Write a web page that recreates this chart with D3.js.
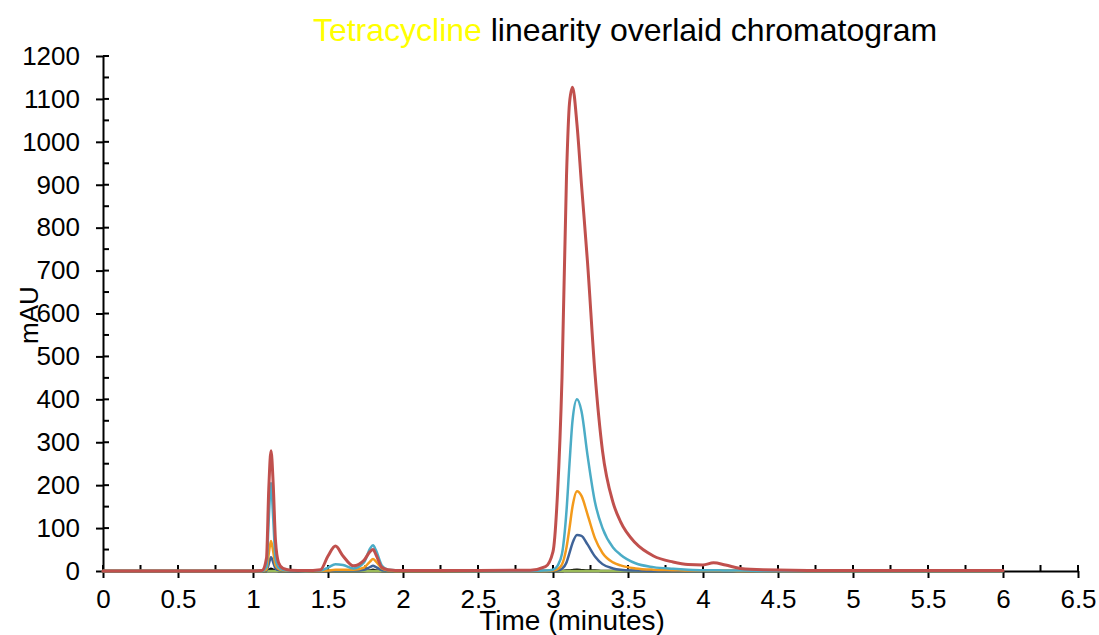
<!DOCTYPE html>
<html>
<head>
<meta charset="utf-8">
<script src="https://cdn.jsdelivr.net/npm/d3@7"></script>
<style>
    body { margin: 0; background: #fff; }
    text { font-family: "Liberation Sans", Arial, sans-serif; }
    .axis line, .axis path { stroke: #000; stroke-width: 2px; }
    .trace { fill: none; stroke-linejoin: round; stroke-linecap: round; }
</style>
</head>
<body>
<script>
(function(){

    //retention times (minutes) shared by every trace
    var times = [0, 0.5, 1.0, 1.06, 1.09, 1.105, 1.12, 1.135, 1.15, 1.17,
        1.2, 1.25, 1.35, 1.45, 1.5, 1.55, 1.6, 1.67, 1.74, 1.78,
        1.8, 1.82, 1.86, 1.9, 2.0, 2.5, 2.85, 2.95, 3.0, 3.03,
        3.06, 3.09, 3.11, 3.13, 3.16, 3.19, 3.23, 3.28, 3.33, 3.4,
        3.45, 3.55, 3.67, 3.8, 3.9, 4.0, 4.07, 4.15, 4.25, 4.4,
        5.0, 6.0];

    //absorbance (mAU) for each concentration level
    var level1 = [0, 0, 0, 0, 0, 2, 5, 3, 1, 0,
        0, 0, 0, 0, 0, 0, 0, 0, 0, 1,
        3, 1, 0, 0, 0, 0, 0, 0, 0, 0,
        0, 1, 1, 2, 3, 2, 1, 1, 0, 0,
        0, 0, 0, 0, 0, 0, 0, 0, 0, 0,
        0, 0];
    var level2 = [0, 0, 0, 0, 1, 16, 32, 20, 6, 2,
        1, 0, 0, 0, 0, 1, 1, 1, 3, 9,
        12, 9, 2, 1, 0, 0, 0, 0, 0, 1,
        5, 20, 42, 65, 84, 82, 62, 34, 16, 6,
        3, 1, 0, 0, 0, 0, 0, 0, 0, 0,
        0, 0];
    var level3 = [0, 0, 0, 0, 3, 40, 70, 45, 14, 5,
        2, 1, 0, 0, 1, 3, 3, 3, 8, 22,
        28, 22, 6, 2, 0, 0, 0, 0, 1, 4,
        15, 55, 100, 150, 186, 175, 132, 76, 42, 20,
        13, 6, 3, 2, 1, 1, 1, 1, 0, 0,
        0, 0];
    var level4 = [0, 0, 0, 0, 10, 120, 205, 120, 30, 8,
        3, 1, 0, 1, 8, 16, 14, 6, 20, 52,
        60, 48, 12, 3, 1, 0, 0, 1, 3, 12,
        40, 140, 250, 350, 400, 372, 270, 160, 100, 55,
        38, 18, 9, 5, 3, 2, 2, 1, 1, 0,
        0, 0];
    var level5 = [0, 0, 0, 0, 0, 0, 0, 0, 0, 0,
        0, 0, 0, 0, 0, 0, 0, 0, 0, 0,
        0, 0, 0, 0, 0, 0, 0, 0, 0, 0,
        0, 0, 0, 0, 0, 0, 0, 0, 0, 0,
        0, 0, 0, 0, 0, 0, 0, 0, 0, 0,
        0, 0];
    var level6 = [0, 0, 0, 1, 30, 190, 280, 200, 70, 20,
        6, 2, 1, 3, 35, 58, 35, 12, 25, 45,
        50, 38, 8, 3, 1, 1, 2, 10, 45, 180,
        450, 920, 1090, 1127, 1040, 900, 720, 460, 280, 160,
        115, 65, 35, 21, 15, 14, 19, 14, 6, 3,
        1, 1];

    //draw order, back to front
    var traces = [level1, level5, level2, level3, level4, level6];
    var traceColors = ["#000000", "#9BBB59", "#3F6398", "#F39A1B", "#4BACC6", "#C0504D"];
    var traceWidths = [2.5, 2.5, 2.5, 2.5, 2.5, 3];

    //tick values
    var xTicks = [0, 0.5, 1, 1.5, 2, 2.5, 3, 3.5, 4, 4.5, 5, 5.5, 6, 6.5];
    var xMinor = [0.25, 0.75, 1.25, 1.75, 2.25, 2.75, 3.25, 3.75, 4.25, 4.75, 5.25, 5.75, 6.25];
    var yTicks = [0, 100, 200, 300, 400, 500, 600, 700, 800, 900, 1000, 1100, 1200];
    var yMinor = [50, 150, 250, 350, 450, 550, 650, 750, 850, 950, 1050, 1150];

    window.onload = setChart();

    function setChart(){
        var width = 1099,
            height = 635;

        var svg = d3.select("body")
            .append("svg")
            .attr("width", width)
            .attr("height", height);

        var x = d3.scaleLinear().domain([0, 6.5]).range([103, 1078]);
        var y = d3.scaleLinear().domain([0, 1200]).range([571, 56]);

        //title, first word in yellow
        var title = svg.append("text")
            .attr("x", 625)
            .attr("y", 41)
            .attr("text-anchor", "middle")
            .style("font-size", "32px");
        title.append("tspan").attr("fill", "#FFFF00").text("Tetracycline");
        title.append("tspan").attr("fill", "#000").text(" linearity overlaid chromatogram");

        //y axis
        var yAxis = svg.append("g")
            .attr("class", "axis")
            .attr("transform", "translate(" + x(0) + ",0)")
            .call(d3.axisLeft(y).tickValues(yTicks).tickFormat(d3.format("d")).tickSize(7).tickPadding(16).tickSizeOuter(0));
        yAxis.selectAll("text").style("font-size", "26px").attr("fill", "#000");
        //right-hand halves of the major ticks and the minor ticks
        svg.selectAll(".yTickRight")
            .data(yTicks.concat(yMinor))
            .enter()
            .append("line")
            .attr("x1", x(0))
            .attr("x2", x(0) + 6)
            .attr("y1", function(d){ return y(d); })
            .attr("y2", function(d){ return y(d); })
            .attr("stroke", "#000")
            .attr("stroke-width", 2);

        //x axis
        var xAxis = svg.append("g")
            .attr("class", "axis")
            .attr("transform", "translate(0," + y(0) + ")")
            .call(d3.axisBottom(x).tickValues(xTicks).tickFormat(d3.format("")).tickSize(7).tickPadding(12).tickSizeOuter(0));
        xAxis.selectAll("text").style("font-size", "26px").attr("fill", "#000");
        svg.selectAll(".xTickUp")
            .data(xTicks.concat(xMinor))
            .enter()
            .append("line")
            .attr("x1", function(d){ return x(d); })
            .attr("x2", function(d){ return x(d); })
            .attr("y1", y(0))
            .attr("y2", y(0) - 6)
            .attr("stroke", "#000")
            .attr("stroke-width", 2);

        //chromatogram traces
        var line = d3.line()
            .x(function(d, i){ return x(times[i]); })
            .y(function(d){ return y(d); })
            .curve(d3.curveMonotoneX);

        svg.selectAll(".trace")
            .data(traces)
            .enter()
            .append("path")
            .attr("class", "trace")
            .attr("d", line)
            .attr("stroke", function(d, i){ return traceColors[i]; })
            .attr("stroke-width", function(d, i){ return traceWidths[i]; });

        //axis titles
        svg.append("text")
            .attr("transform", "translate(38,315) rotate(-90)")
            .attr("text-anchor", "middle")
            .style("font-size", "26px")
            .text("mAU");

        svg.append("text")
            .attr("x", 572)
            .attr("y", 630)
            .attr("text-anchor", "middle")
            .style("font-size", "28px")
            .text("Time (minutes)");
    };
})();
</script>
</body>
</html>
